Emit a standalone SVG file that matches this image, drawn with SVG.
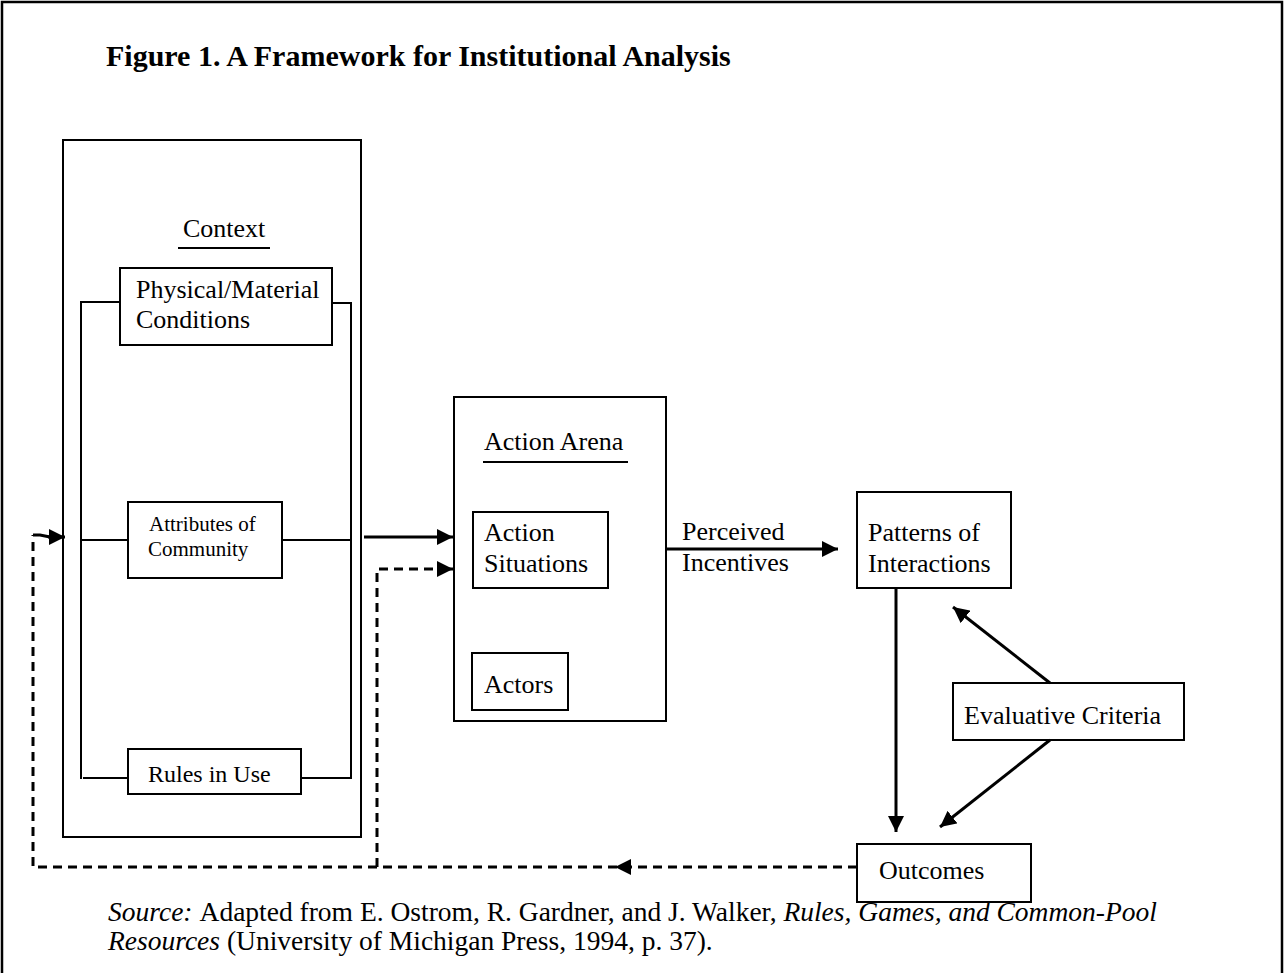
<svg xmlns="http://www.w3.org/2000/svg" width="1285" height="973" viewBox="0 0 1285 973">
<defs>
<style>
.box{fill:#fff;stroke:#000;stroke-width:2}
.ln{fill:none;stroke:#000;stroke-width:2}
.arr{fill:none;stroke:#000;stroke-width:3}
.dash{fill:none;stroke:#000;stroke-width:3;stroke-dasharray:9 6}
.t{font-family:"Liberation Serif","Times New Roman",serif;font-size:26px;fill:#000}
.ts{font-family:"Liberation Serif","Times New Roman",serif;font-size:21px;fill:#000}
.ti{font-family:"Liberation Serif","Times New Roman",serif;font-size:30px;font-weight:bold;fill:#000}
.src{font-family:"Liberation Serif","Times New Roman",serif;font-size:27.5px;fill:#000}
</style>
<marker id="ah" markerWidth="16" markerHeight="16" viewBox="0 0 16 16" refX="16" refY="8" orient="auto" markerUnits="userSpaceOnUse">
<path d="M0,0 L16,8 L0,16 Z" fill="#000"/>
</marker>
</defs>
<rect width="1285" height="973" fill="#fff"/>
<path d="M2,973 V2 H1282 V973" fill="none" stroke="#000" stroke-width="2.5"/>
<text class="ti" x="106" y="66">Figure 1. A Framework for Institutional Analysis</text>

<g id="context">
<rect class="box" x="63" y="140" width="298" height="697"/>
<text class="t" x="183" y="237">Context</text>
<line class="ln" x1="178" y1="248" x2="270" y2="248"/>
<path class="ln" d="M120,302 H81 V779"/>
<path class="ln" d="M332,303 H351 V779"/>
<line class="ln" x1="81" y1="540" x2="128" y2="540"/>
<line class="ln" x1="282" y1="540" x2="351" y2="540"/>
<line class="ln" x1="83" y1="778" x2="128" y2="778"/>
<line class="ln" x1="301" y1="778" x2="351" y2="778"/>
</g>
<g id="physical">
<rect class="box" x="120" y="268" width="212" height="77"/>
<text class="t" x="136" y="298">Physical/Material</text>
<text class="t" x="136" y="328">Conditions</text>
</g>
<g id="attributes">
<rect class="box" x="128" y="502" width="154" height="76"/>
<text class="ts" x="149" y="531">Attributes of</text>
<text class="ts" x="148" y="556">Community</text>
</g>
<g id="rules">
<rect class="box" x="128" y="749" width="173" height="45"/>
<text class="ts" x="148" y="782" style="font-size:24px">Rules in Use</text>
</g>

<g id="arena">
<rect class="box" x="454" y="397" width="212" height="324"/>
<text class="t" x="484" y="450">Action Arena</text>
<line class="ln" x1="483" y1="462" x2="628" y2="462"/>
</g>
<g id="situations">
<rect class="box" x="473" y="512" width="135" height="76"/>
<text class="t" x="484" y="541">Action</text>
<text class="t" x="484" y="572">Situations</text>
</g>
<g id="actors">
<rect class="box" x="472" y="653" width="96" height="57"/>
<text class="t" x="484" y="693">Actors</text>
</g>

<g id="patterns">
<rect class="box" x="857" y="492" width="154" height="96"/>
<text class="t" x="868" y="541">Patterns of</text>
<text class="t" x="868" y="572">Interactions</text>
</g>
<g id="criteria">
<rect class="box" x="953" y="683" width="231" height="57"/>
<text class="t" x="964" y="724">Evaluative Criteria</text>
</g>
<g id="outcomes">
<rect class="box" x="857" y="844" width="174" height="58"/>
<text class="t" x="879" y="879">Outcomes</text>
</g>

<g id="connectors">
<line class="arr" x1="364" y1="537" x2="453" y2="537" marker-end="url(#ah)"/>
<path class="dash" d="M377,867 V569 H440"/>
<line class="arr" x1="438" y1="569" x2="453" y2="569" marker-end="url(#ah)"/>
<line class="arr" x1="666" y1="549" x2="838" y2="549" marker-end="url(#ah)"/>
<text class="t" x="682" y="540">Perceived</text>
<text class="t" x="682" y="571">Incentives</text>
<line class="arr" x1="896" y1="588" x2="896" y2="832" marker-end="url(#ah)"/>
<line class="arr" x1="1050" y1="683" x2="953" y2="607" marker-end="url(#ah)"/>
<line class="arr" x1="1050" y1="740" x2="940" y2="827" marker-end="url(#ah)"/>
<path class="dash" d="M857,867 H33 V535"/>
<path d="M33,535 L40,535 L50,537" class="arr"/>
<line class="arr" x1="48" y1="537" x2="65" y2="537" marker-end="url(#ah)"/>
<path d="M615,867 L631,859 L631,875 Z" fill="#000"/>
</g>

<text class="src" x="108" y="921"><tspan font-style="italic">Source:</tspan><tspan dx="7">Adapted from E. Ostrom, R. Gardner, and J. Walker, </tspan><tspan font-style="italic">Rules, Games, and Common-Pool</tspan></text>
<text class="src" x="108" y="950"><tspan font-style="italic">Resources</tspan> (University of Michigan Press, 1994, p. 37).</text>
</svg>
